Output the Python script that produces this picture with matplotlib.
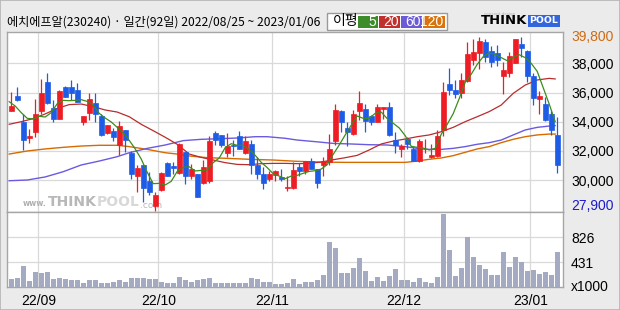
import numpy as np
import matplotlib
matplotlib.use('Agg')
import matplotlib.pyplot as plt
from matplotlib.patches import Rectangle
from matplotlib.font_manager import fontManager
import matplotlib.transforms as mtransforms

# ---------------- data ----------------
title = "에치에프알(230240) · 일간(92일) 2022/08/25 ~ 2023/01/06"
month_labels = ["22/09", "22/10", "22/11", "22/12", "23/01"]
month_first_idx = [5, 25, 44, 66, 87]   # index of first trading day of each month

opens = [34750, 35750, 34000, 32900, 33300, 34700, 36700, 34950, 34200, 36350,
         36350, 36200, 34000, 34600, 35250, 34400, 33200, 33350, 32400, 33450,
         31850, 30300, 31050, 29950, 28250, 29300, 31150, 30950, 30450, 31900,
         30300, 30400, 29800, 29950, 33200, 33100, 31850, 32400, 33000, 31850,
         32450, 31050, 30400, 30100, 30350, 30200, 29450, 29450, 30900, 30650,
         31300, 30750, 31050, 31250, 32650, 34750, 33600, 33150, 34750, 34900,
         34400, 34000, 34850, 35000, 32750, 32100, 32800, 32150, 31300, 32100,
         31600, 31650, 33400, 36550, 36150, 35950, 36800, 38200, 38700, 39450,
         38850, 38700, 37150, 37350, 38050, 39300, 38850, 37150, 35550, 35200,
         34550, 33100]
highs = [36050, 36350, 34550, 33500, 35550, 36900, 37350, 35500, 36150, 36450,
         36850, 36650, 34400, 35950, 36000, 34550, 33750, 33600, 34050, 33450,
         32000, 31050, 31050, 30550, 29200, 30550, 31250, 31250, 32550, 31900,
         31100, 30400, 31400, 33000, 33350, 33100, 33200, 32750, 33350, 33000,
         32750, 31600, 30900, 30650, 30700, 30750, 30300, 31250, 31200, 31300,
         31500, 30750, 31600, 33150, 35200, 34800, 34000, 34800, 36100, 35200,
         34450, 35200, 35000, 35350, 33300, 32500, 32950, 32250, 32800, 32800,
         32450, 33450, 36700, 37700, 36850, 37350, 39450, 39650, 39800, 39650,
         39200, 39250, 38100, 38800, 39700, 39800, 38900, 37350, 36100, 35700,
         34700, 34350]
lows = [34700, 35450, 32050, 32550, 32950, 34550, 35200, 33950, 34150, 35700,
        35500, 35350, 33750, 34100, 33950, 33000, 33150, 32700, 31700, 31950,
        30050, 29150, 28500, 28950, 27900, 29250, 30250, 30400, 30400, 29750,
        30100, 28850, 29750, 29800, 32400, 32250, 31600, 31650, 32100, 31800,
        30400, 30050, 29350, 29950, 29900, 29900, 29250, 29350, 30250, 30400,
        30750, 29450, 30300, 31050, 32400, 33300, 32300, 33100, 34100, 33300,
        33750, 33950, 34150, 33000, 31850, 31550, 32100, 31300, 31250, 31850,
        31500, 31600, 33000, 35850, 35600, 35650, 36750, 37900, 37600, 38100,
        37750, 37800, 35900, 37050, 38000, 38450, 36750, 35150, 34550, 34050,
        33100, 30500]
closes = [35050, 35500, 32750, 33000, 34550, 36000, 35250, 34200, 36100, 35700,
          35950, 35350, 34400, 35550, 34500, 33100, 33750, 32950, 33700, 32750,
          30400, 30850, 29450, 29150, 28950, 30450, 30300, 30800, 32450, 30300,
          30750, 28850, 30900, 32650, 32750, 32400, 32350, 32300, 32150, 32650,
          31000, 30400, 29800, 30400, 30600, 30100, 29550, 30700, 30650, 31300,
          30750, 29800, 31300, 32150, 34800, 33950, 33300, 34550, 35300, 34050,
          33950, 35000, 35000, 33100, 32400, 32350, 32450, 31300, 32650, 32150,
          31700, 33000, 36050, 36150, 35900, 36850, 38650, 38750, 39550, 38450,
          38100, 38250, 37550, 38500, 39650, 39050, 37150, 35600, 35750, 34100,
          33450, 31050]
volumes = [174, 190, 374, 137, 279, 264, 279, 174, 184, 174,
           158, 158, 111, 158, 158, 100, 100, 116, 158, 116,
           190, 190, 179, 169, 163, 116, 100, 111, 200, 158,
           126, 153, 169, 190, 100, 100, 100, 100, 100, 100,
           179, 163, 116, 116, 90, 90, 100, 163, 84, 116,
           116, 153, 232, 754, 653, 264, 264, 343, 495, 295,
           132, 195, 137, 216, 327, 153, 153, 116, 184, 116,
           100, 195, 1196, 627, 216, 343, 827, 516, 390, 327,
           232, 232, 596, 358, 516, 437, 295, 311, 248, 279,
           232, 596]   # x1000

ma5 = [35370, 35070, 34620, 34230, 34180, 34370, 34320, 34620, 35230, 35460,
       35440, 35460, 35510, 35390, 35140, 34570, 34250, 33980, 33610, 33250,
       32720, 32130, 31440, 30530, 29750, 29770, 29660, 29910, 30590, 30870,
       30910, 30620, 30660, 30690, 31190, 31510, 32220, 32490, 32380, 32380,
       32080, 31690, 31210, 30850, 30430, 30270, 30090, 30270, 30320, 30460,
       30590, 30640, 30750, 31050, 31760, 32400, 33090, 33750, 34390, 34230,
       34230, 34570, 34660, 34210, 33890, 33570, 33040, 32310, 32240, 32190,
       32060, 32170, 33130, 33820, 34550, 35580, 36700, 37250, 37930, 38460,
       38710, 38620, 38390, 38180, 38410, 38590, 38390, 38000, 37450, 36330,
       35210, 34000]
ma20_idx = [0, 2, 4, 6, 8, 10, 12, 14, 16, 18, 20, 22, 24, 26, 28, 30, 32, 34, 36, 38,
            40, 42, 44, 46, 48, 50, 52, 54, 56, 58, 60, 62, 64, 66, 68, 70, 72, 74, 76, 78,
            80, 82, 84, 86, 88, 90, 91]
ma20 = [33820, 34000, 34210, 34530, 34910, 35170, 35210, 35030, 34800, 34660,
        34340, 33820, 33380, 32930, 32450, 31780, 31550, 31370, 31190, 31070,
        31050, 31120, 31140, 31140, 31120, 31140, 31230, 31390, 31530, 31690,
        32060, 32470, 32670, 32810, 32970, 33090, 33310, 33610, 34000, 34340,
        34690, 35140, 35940, 36510, 36860, 36970, 36930]
ma60_idx = [0, 3, 6, 9, 12, 15, 18, 20, 23, 26, 29, 32, 35, 38, 41, 43, 46, 48, 51, 54,
            57, 60, 63, 66, 68, 70, 72, 74, 76, 78, 80, 82, 84, 86, 88, 90, 91]
ma60 = [29950, 30000, 30210, 30570, 31030, 31300, 31600, 31870, 32170, 32400,
        32700, 32790, 32830, 32880, 32970, 32970, 32860, 32740, 32630, 32510,
        32470, 32420, 32400, 32290, 32170, 32100, 32100, 32170, 32290, 32450,
        32560, 32740, 33090, 33430, 33610, 33700, 33730]
ma120_idx = [0, 3, 6, 9, 12, 15, 18, 20, 23, 26, 28, 30, 33, 36, 40, 44, 48, 52, 56, 60,
             64, 66, 68, 70, 72, 74, 76, 78, 80, 82, 84, 86, 88, 90, 91]
ma120 = [31780, 31990, 32130, 32240, 32330, 32380, 32380, 32290, 32100, 31870,
         31780, 31650, 31530, 31490, 31420, 31370, 31280, 31230, 31210, 31210,
         31210, 31210, 31300, 31420, 31510, 31670, 31900, 32130, 32290, 32560,
         32790, 32970, 33090, 33150, 33150]

price_ticks = [30000, 32000, 34000, 36000, 38000]
price_tick_labels = ["30,000", "32,000", "34,000", "36,000", "38,000"]
vol_ticks = [431, 826]
vol_tick_labels = ["431", "826"]
ma_periods = ["5", "20", "60", "120"]

# ---------------- style ----------------
installed = {f.name for f in fontManager.ttflist}
def pick(*names):
    for n in names:
        if n in installed:
            return n
    return 'DejaVu Sans'
NUM_FONT = pick('Liberation Sans Narrow', 'Liberation Sans', 'DejaVu Sans')
KR_FONT = ['Noto Sans CJK KR', 'DejaVu Sans']
plt.rcParams['font.family'] = [NUM_FONT, 'DejaVu Sans']

BG = '#ebebeb'
RED = '#ee1c24'
BLUE = '#1f5ce6'
VOLC = '#a3aac2'
GRID = '#d9d9d9'
SPINE = '#a6a6a6'
C5, C20, C60, C120 = '#3c8c1c', '#b82c2c', '#6a5ae0', '#d66b00'
L5, L20, L60, L120 = '#3d8c2a', '#c0302c', '#6b5bd6', '#d9730d'

W, H = 620, 310
def fx(x): return x / W
def fy(y): return 1 - y / H

fig = plt.figure(figsize=(W / 100, H / 100), dpi=100, facecolor=BG)
fig.patches.append(Rectangle((0, 0), 1, 1, transform=fig.transFigure,
                             fill=False, edgecolor='#b4b4b4', lw=1.2))
renderer = fig.canvas.get_renderer()

def fit(t, target_px):
    bb = t.get_window_extent(renderer)
    t.set_fontsize(t.get_fontsize() * target_px / bb.width)
    return t

L, R = 7, 563
ax = fig.add_axes([fx(L), fy(212), (R - L) / W, 180 / H])
axv = fig.add_axes([fx(L), fy(287), (R - L) / W, 75 / H], sharex=ax)

x = np.arange(len(closes))
o = np.array(opens); c = np.array(closes); h = np.array(highs); lo = np.array(lows)
col = np.where(c >= o, RED, BLUE)

# candles
ax.vlines(x, lo, h, colors=col, lw=0.9, zorder=4)
ax.bar(x, np.abs(c - o), bottom=np.minimum(o, c), width=0.78, color=col,
       edgecolor=col, linewidth=0.5, zorder=5)

# moving averages
sh = -0.35
ax.plot(np.array(ma120_idx) + sh, ma120, color=C120, lw=1.0, zorder=3)
ax.plot(np.array(ma60_idx) + sh, ma60, color=C60, lw=1.0, zorder=3)
ax.plot(np.array(ma20_idx) + sh, ma20, color=C20, lw=0.9, zorder=3)
ax.plot(x + sh, ma5, color=C5, lw=0.9, zorder=6)

gridx = [i - 0.5 for i in month_first_idx]
for a in (ax, axv):
    a.set_facecolor('white')
    a.set_xticks(gridx)
    a.grid(True, color=GRID, lw=0.9)
    a.set_axisbelow(True)
    for s in a.spines.values():
        s.set_color(SPINE); s.set_linewidth(1.0)

ax.set_xlim(-0.72, 91.95)
ax.set_ylim(27806, 40149)
ax.set_yticks(price_ticks)
ax.set_yticklabels(price_tick_labels)
ax.yaxis.tick_right()
ax.tick_params(axis='both', length=0, labelbottom=False, labelsize=10, pad=5.8)

# min / max labels
trans = mtransforms.blended_transform_factory(ax.transAxes, ax.transData)
lab_x = (571 - L) / (R - L)
ax.text(lab_x, max(highs), f"{max(highs):,}", transform=trans, color='#d06a10',
        fontsize=10, va='center', ha='left', clip_on=False)
tmin = mtransforms.offset_copy(trans, fig=fig, x=0, y=4.5, units='dots')
ax.text(lab_x, min(lows), f"{min(lows):,}", transform=tmin, color='#1a1acc',
        fontsize=10, va='center', ha='left', clip_on=False)

# watermark (inside the price axes, behind the marks)
wm = [("www.", 23, 47, 204, '#b0b0b0', 'bold'),
      ("THINK", 48, 97, 202.5, '#b8b8b8', 'bold'),
      ("POOL", 97, 140, 202.5, '#d8d8d8', 'bold'),
      (".com", 140, 162, 205, '#b8b8b8', 'normal')]
for txt, x0, x1, yc, cc, wt in wm:
    tt = ax.text(fx(x0), fy(yc), txt, transform=fig.transFigure, color=cc, fontsize=10,
                 fontweight=wt, va='center', ha='left', family='DejaVu Sans', zorder=1)
    fit(tt, x1 - x0)

# volume
axv.bar(x, volumes, width=0.8, color=VOLC, zorder=3)
axv.set_ylim(42, 1228)
axv.set_yticks(vol_ticks)
axv.set_yticklabels(vol_tick_labels)
axv.yaxis.tick_right()
axv.set_xticklabels(month_labels)
axv.tick_params(axis='y', length=0, labelsize=10, pad=5.8)
axv.tick_params(axis='x', length=0, labelsize=10, pad=5.0)
axv.text(lab_x, 0.0, "x1000", transform=axv.transAxes, fontsize=10,
         va='center', ha='left', clip_on=False)

# title
t = fig.text(fx(7), fy(22), title, family=KR_FONT, fontsize=10, va='center', ha='left')
fit(t, 314)

# legend box
fig.patches.append(Rectangle((fx(327), fy(30)), 120 / W, 17 / H, transform=fig.transFigure,
                             facecolor='white', edgecolor='#9a9a9a', lw=1.0))
fig.text(fx(333), fy(21.5), "이평", family=KR_FONT, fontsize=10, va='center', ha='left')
boxes = [(358, 378, L5), (379, 400, L20), (401, 422, L60), (423, 445, L120)]
for (x0, x1, cc), lab in zip(boxes, ma_periods):
    fig.patches.append(Rectangle((fx(x0), fy(28)), (x1 - x0) / W, 12 / H,
                                 transform=fig.transFigure, facecolor=cc, edgecolor='none'))
    fig.text(fx(x1 - 1.5), fy(22), lab, color='white', fontsize=10, va='center', ha='right')

# logo
fig.text(fx(484), fy(14), "concept design", family='DejaVu Sans', fontsize=3,
         color='#b0b0b0', va='center', ha='left')
lt = fig.text(fx(481), fy(21), "THINK", family='DejaVu Sans', fontweight='bold',
              fontsize=10, color='black', va='center', ha='left')
fit(lt, 46)
fig.patches.append(Rectangle((fx(528), fy(26.5)), 32 / W, 11.5 / H, transform=fig.transFigure,
                             facecolor='#3366dd', edgecolor='none'))
pt = fig.text(fx(544), fy(20.8), "POOL", family='DejaVu Sans', fontweight='bold',
              fontsize=10, color='white', va='center', ha='center')
fit(pt, 29)

fig.savefig('out.png', dpi=100, facecolor=BG)
